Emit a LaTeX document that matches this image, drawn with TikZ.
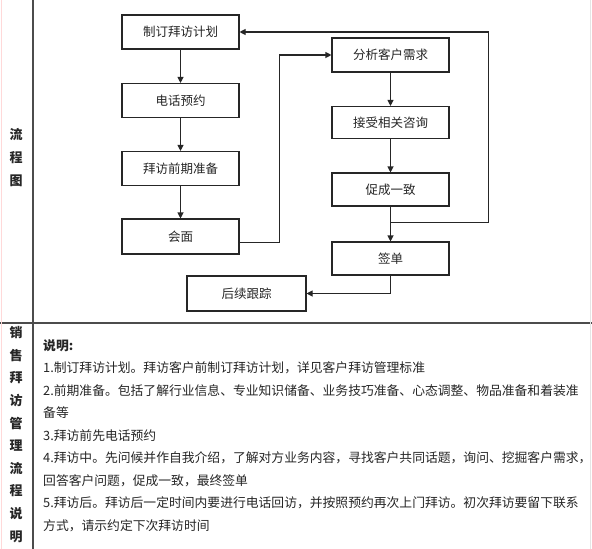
\documentclass[tikz,border=0pt]{standalone}
\usepackage{fontspec}
\setmainfont{Noto Sans CJK SC}
\usetikzlibrary{arrows.meta}
\begin{document}
\begin{tikzpicture}[x=1pt,y=-1pt,
  box/.style={draw=black!85,line width=1.1pt,minimum width=117pt,minimum height=34pt,inner sep=0pt,font=\fontsize{12.5}{14}\selectfont,text=black!85},
  arr/.style={draw=black!85,line width=1.1pt,-{Triangle[length=6pt,width=6pt]}},
  ln/.style={draw=black!85,line width=1.1pt},
  desc/.style={anchor=base west,inner sep=0pt,font=\fontsize{12.8}{14}\selectfont,text=black!85},
  side/.style={align=center,inner sep=0pt,font=\fontsize{13}{22.6}\selectfont\bfseries,text=black!85}]
\useasboundingbox (0,0) rectangle (592,549);
\fill[white] (0,0) rectangle (592,549);
\draw[gray!60!black,line width=1.6pt] (33,0) -- (33,549);
\draw[gray!60!black,line width=1.4pt] (0,323) -- (592,323);
\draw[red!15,line width=1pt] (1,0) -- (1,549);
\draw[black!10,line width=0.8pt] (590,0) -- (590,549);

\node[box] (jd) at (180.5,32) {制订拜访计划};
\node[box] (dh) at (180.5,100.5) {电话预约};
\node[box] (bf) at (180.5,168.5) {拜访前期准备};
\node[box,minimum height=35pt] (hm) at (180.5,236.5) {会面};
\node[box] (fx) at (390.5,55) {分析客户需求};
\node[box,minimum height=32pt] (js) at (390.5,122.5) {接受相关咨询};
\node[box,minimum height=33pt] (cc) at (390.5,189.5) {促成一致};
\node[box,minimum height=33pt] (qd) at (390.5,258.5) {签单};
\node[box,minimum width=119pt,minimum height=35pt] (hx) at (246.5,293.5) {后续跟踪};

\draw[arr] (jd) -- (dh);
\draw[arr] (dh) -- (bf);
\draw[arr] (bf) -- (hm);
\draw[arr] ([yshift=-6pt]hm.east) -- ++(40,0) |- (fx.west);
\draw[arr] (fx) -- (js);
\draw[arr] (js) -- (cc);
\draw[arr] (cc) -- (qd);
\draw[arr] ([yshift=-16pt]cc.south) -- ++(98,0) |- (jd.east);
\draw[arr] (qd.south) |- (hx.east);

\node[side] (s1) at (16,157.5) {流\\程\\图};
\node[side] (s2) at (16,434.5) {销\\售\\拜\\访\\管\\理\\流\\程\\说\\明};

\node[desc,font=\fontsize{12.8}{14}\selectfont\bfseries] (l0) at (43,350) {说明:};
\node[desc] (l1) at (43,372.5) {1.制订拜访计划。拜访客户前制订拜访计划，详见客户拜访管理标准};
\node[desc] (l2) at (43,395) {2.前期准备。包括了解行业信息、专业知识储备、业务技巧准备、心态调整、物品准备和着装准};
\node[desc] (l3) at (43,417.5) {备等};
\node[desc] (l4) at (43,440) {3.拜访前先电话预约};
\node[desc] (l5) at (43,462.5) {4.拜访中。先问候并作自我介绍，了解对方业务内容，寻找客户共同话题，询问、挖掘客户需求，};
\node[desc] (l6) at (43,485) {回答客户问题，促成一致，最终签单};
\node[desc] (l7) at (43,507.5) {5.拜访后。拜访后一定时间内要进行电话回访，并按照预约再次上门拜访。初次拜访要留下联系};
\node[desc] (l8) at (43,530) {方式，请示约定下次拜访时间};
\end{tikzpicture}
\end{document}
